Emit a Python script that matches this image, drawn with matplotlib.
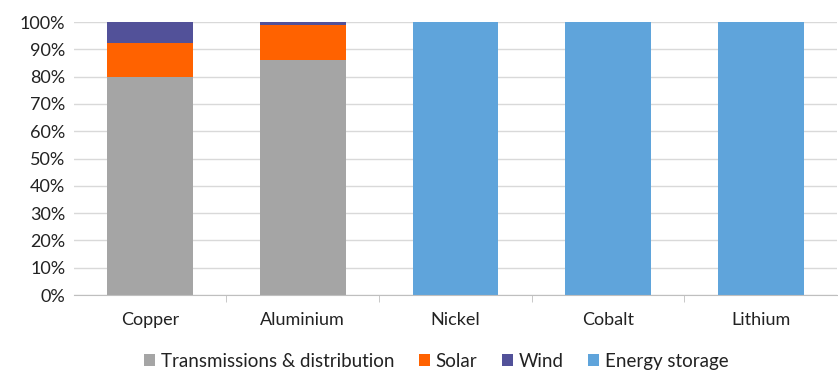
import matplotlib.pyplot as plt
import numpy as np

plt.rcParams['font.family'] = ['Lato', 'DejaVu Sans']

metals = ['Copper', 'Aluminium', 'Nickel', 'Cobalt', 'Lithium']
transmission = [80, 86, 0, 0, 0]
solar = [12.5, 12.8, 0, 0, 0]
wind = [7.5, 1.2, 0, 0, 0]
storage = [0, 0, 100, 100, 100]

fig = plt.figure(figsize=(8.38, 3.74), dpi=100)
ax = fig.add_axes([0.088, 0.211, 0.911, 0.73])

x = np.arange(len(metals))
w = 0.56
bottom = np.zeros(len(metals))
series = [(transmission, '#A5A5A5', 'Transmissions & distribution'),
          (solar, '#FF6200', 'Solar'),
          (wind, '#525199', 'Wind'),
          (storage, '#5FA4DB', 'Energy storage')]
for vals, col, lab in series:
    ax.bar(x, vals, w, bottom=bottom, color=col, label=lab, zorder=3)
    bottom += np.array(vals)

ax.set_xlim(-0.5, 4.5)
ax.set_ylim(0, 100)
ax.set_yticks(range(0, 101, 10))
ax.set_yticklabels([f'{v}%' for v in range(0, 101, 10)], fontsize=13, color='#222222')
ax.set_xticks(x)
ax.set_xticklabels(metals, fontsize=13, color='#222222')
ax.set_xticks(np.arange(0.5, 4.5, 1), minor=True)
ax.tick_params(axis='x', which='major', length=0, pad=12)
ax.tick_params(axis='x', which='minor', length=5, color='#BFBFBF')
ax.tick_params(axis='y', length=0, pad=6)
ax.grid(axis='y', color='#D9D9D9', linewidth=1, zorder=0)
for s in ['top', 'right', 'left']:
    ax.spines[s].set_visible(False)
ax.spines['bottom'].set_color('#BFBFBF')
ax.spines['bottom'].set_zorder(4)

ax.legend(loc='lower center', bbox_to_anchor=(0.475, -0.335), ncol=4, frameon=False,
          fontsize=13.5, handlelength=0.6, handleheight=0.6, handletextpad=0.3,
          columnspacing=1.3, labelcolor='#222222')

fig.savefig('out.png', dpi=100)
